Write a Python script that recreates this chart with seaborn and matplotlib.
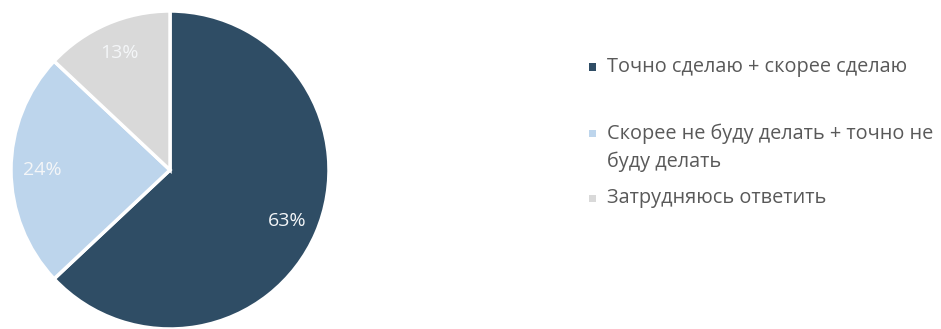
import matplotlib
matplotlib.use("Agg")
import matplotlib.pyplot as plt
import seaborn as sns
from matplotlib.patches import Rectangle

categories = ["Точно сделаю + скорее сделаю",
              "Скорее не буду делать + точно не\nбуду делать",
              "Затрудняюсь ответить"]
values = [63, 24, 13]
colors = ["#2f4d65", "#bdd5ec", "#d9d9d9"]

sns.set_theme(style="white")
plt.rcParams['font.family'] = ['Open Sans', 'DejaVu Sans']

W, H = 941, 329
fig = plt.figure(figsize=(W / 100, H / 100), dpi=100)
fig.patch.set_facecolor("white")

cx, cy, r = 170, 170, 159
ax = fig.add_axes([(cx - r) / W, (H - cy - r) / H, 2 * r / W, 2 * r / H])
wedges, texts, autotexts = ax.pie(
    values, colors=colors, startangle=90, counterclock=False,
    autopct=lambda p: f"{p:.0f}%", pctdistance=0.8,
    wedgeprops=dict(edgecolor="white", linewidth=2.5),
    textprops=dict(color="#f4f6f8", fontsize=14))
ax.set_xlim(-1, 1)
ax.set_ylim(-1, 1)
ax.set_aspect("equal")
ax.axis("off")

# legend
rows = [67, 147.5, 198]
for cat, col, yy in zip(categories, colors, rows):
    my = yy if "\n" not in cat else 133
    fig.add_artist(Rectangle((589 / W, (H - my - 3.5) / H), 7 / W, 7 / H,
                             transform=fig.transFigure, facecolor=col,
                             edgecolor="none"))
    fig.text(607 / W, (H - yy) / H, cat, ha="left", va="center",
             fontsize=14.3, color="#595959", linespacing=1.5)

fig.savefig("out.png", dpi=100, facecolor="white")
